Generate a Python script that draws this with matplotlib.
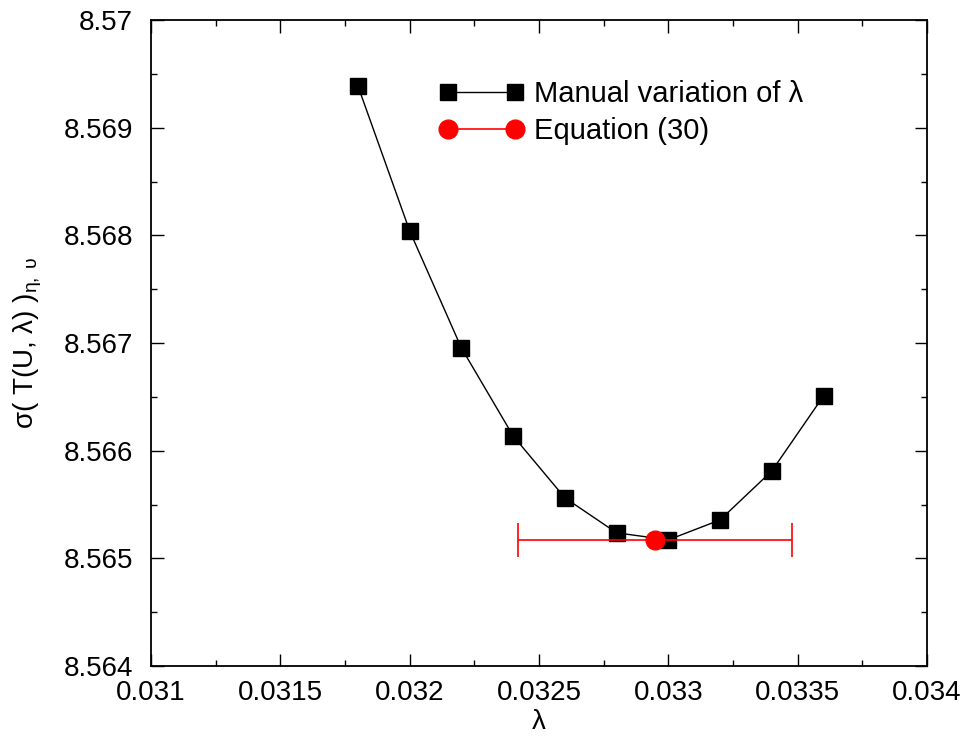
import matplotlib
matplotlib.use('Agg')
import matplotlib.pyplot as plt
from matplotlib.lines import Line2D
from matplotlib.ticker import MultipleLocator, FuncFormatter

plt.rcParams['font.family'] = ['Liberation Sans', 'DejaVu Sans']
plt.rcParams['mathtext.fontset'] = 'custom'
plt.rcParams['mathtext.rm'] = 'Liberation Sans'
plt.rcParams['mathtext.it'] = 'Liberation Sans'

# manual scan of lambda
lam = [0.0318, 0.0320, 0.0322, 0.0324, 0.0326, 0.0328, 0.0330, 0.0332, 0.0334, 0.0336]
sigma = [8.569387, 8.568041, 8.566954, 8.566137, 8.565562, 8.565237,
         8.565172, 8.565357, 8.565812, 8.566509]

# equation (30) estimate
eq_lam = [0.032948]
eq_sigma = [8.565172]
eq_err = [0.00053]

fig = plt.figure(figsize=(9.68, 7.44), dpi=100)
ax = fig.add_axes([0.156, 0.1048, 0.8017, 0.8683])

ax.plot(lam, sigma, color='black', lw=1.0, marker='s', ms=11,
        mfc='black', mec='black')
ax.errorbar(eq_lam, eq_sigma, xerr=eq_err, color='red', lw=1.2,
            marker='o', ms=13.5, capsize=12, capthick=1.2)

ax.set_xlim(0.031, 0.034)
ax.set_ylim(8.564, 8.570)
ax.xaxis.set_major_locator(MultipleLocator(0.0005))
ax.xaxis.set_minor_locator(MultipleLocator(0.00025))
ax.yaxis.set_major_locator(MultipleLocator(0.001))
ax.yaxis.set_minor_locator(MultipleLocator(0.0005))
fmt = FuncFormatter(lambda v, p: '%g' % round(v, 6))
ax.xaxis.set_major_formatter(fmt)
ax.yaxis.set_major_formatter(fmt)

ax.tick_params(which='both', direction='in', top=True, right=True,
               labelsize=20, width=1.0)
ax.tick_params(which='major', length=9)
ax.tick_params(which='minor', length=4.5)
ax.tick_params(axis='x', pad=10)
ax.tick_params(axis='y', pad=13)
for s in ax.spines.values():
    s.set_linewidth(1.3)

ax.set_xlabel('λ', fontsize=20, labelpad=2)
ax.set_ylabel('σ( T(U, λ) )' + r'$_{\eta,\ \upsilon}$', fontsize=20, labelpad=14)

handles = [
    Line2D([], [], color='black', lw=1.0, marker='s', ms=11),
    Line2D([], [], color='red', lw=1.2, marker='o', ms=13.5),
]
labels = ['Manual variation of λ', 'Equation (30)']
ax.legend(handles, labels, loc='upper left', bbox_to_anchor=(0.356, 0.925),
          frameon=False, fontsize=21, numpoints=2, handlelength=2.9,
          handletextpad=0.35, labelspacing=0.3, borderaxespad=0)

fig.savefig('out.png', dpi=100)
